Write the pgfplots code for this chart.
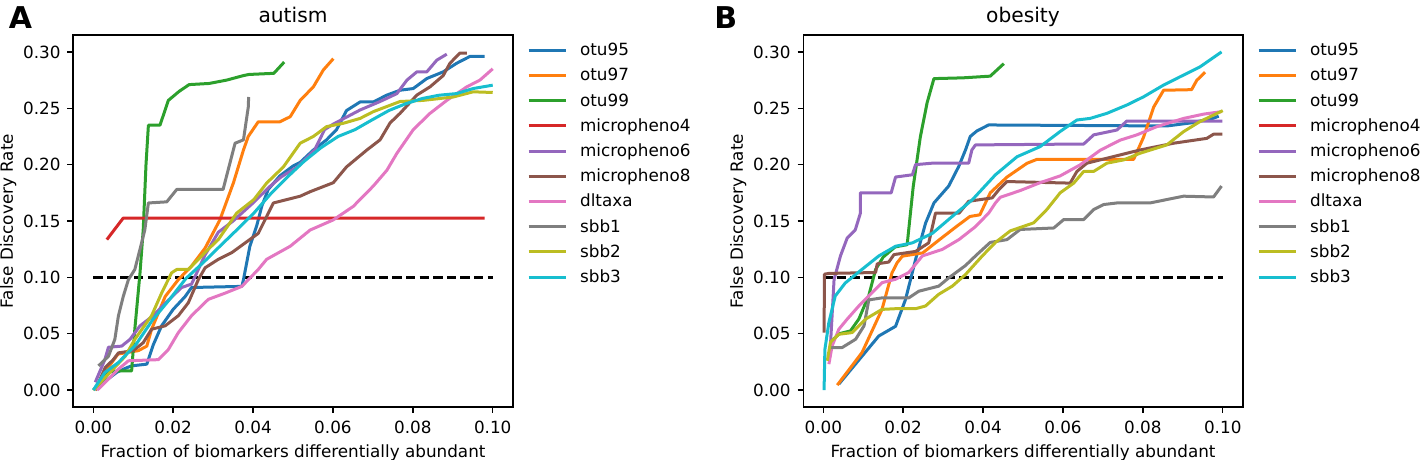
\documentclass[border=0pt]{standalone}
\usepackage{fontspec}
\setmainfont{DejaVu Sans}
\usepackage{pgfplots}
\pgfplotsset{compat=1.18}
\definecolor{c0}{HTML}{1F77B4}
\definecolor{c1}{HTML}{FF7F0E}
\definecolor{c2}{HTML}{2CA02C}
\definecolor{c3}{HTML}{D62728}
\definecolor{c4}{HTML}{9467BD}
\definecolor{c5}{HTML}{8C564B}
\definecolor{c6}{HTML}{E377C2}
\definecolor{c7}{HTML}{7F7F7F}
\definecolor{c8}{HTML}{BCBD22}
\definecolor{c9}{HTML}{17BECF}
\newcommand\fs{\fontsize{8.4}{10}\selectfont}
\newcommand\ls{\vrule width0pt height6.8pt depth0.6pt\relax}
\pgfplotsset{
  fdr/.style={
    scale only axis, width=219.7pt, height=186pt,
    xmin=-0.005, xmax=0.105, ymin=-0.015, ymax=0.315,
    xtick={0,0.02,0.04,0.06,0.08,0.1},
    xticklabels={0.00,0.02,0.04,0.06,0.08,0.10},
    ytick={0,0.05,0.1,0.15,0.2,0.25,0.3},
    yticklabels={0.00,0.05,0.10,0.15,0.20,0.25,0.30},
    tick align=outside, xtick pos=left, ytick pos=left,
    major tick length=2.9pt,
    every tick/.style={black, line width=0.7pt},
    axis line style={line width=0.8pt},
    tick label style={font=\fs, inner sep=0pt},
    xticklabel style={anchor=base, yshift=-10.4pt},
    yticklabel style={anchor=east, xshift=-3.25pt},
    label style={font=\fs},
    xlabel style={at={(axis description cs:0.5,-0.1355)}, anchor=base, inner sep=0pt},
    ylabel style={at={(axis description cs:-0.1479,0.5)}, anchor=center, inner sep=0pt},
    title style={font=\fontsize{10.1}{12}\selectfont, at={(axis description cs:0.5,1.0)}, anchor=base, yshift=0pt, inner sep=0pt},
    xlabel={Fraction of biomarkers differentially abundant},
    ylabel={False Discovery Rate},
    legend style={at={(1,1)}, anchor=north west, xshift=7pt, yshift=-3.3pt,
      draw=none, fill=none, inner sep=0pt, font=\fs, row sep=4.3pt, column sep=6.2pt,
      nodes={inner sep=0pt}},
    legend cell align=left,
    legend image code/.code={\draw[#1] (0pt,0pt) -- (18.8pt,0pt);},
    every axis plot/.append style={line width=1.5pt, line join=round, no markers},
  },
  ref/.style={black, dashed, line width=1.45pt, dash pattern=on 4.7pt off 2.1pt, forget plot},
}
\begin{document}
\begin{tikzpicture}
\path[use as bounding box] (0,0) rectangle (712pt,230pt);
% ---------------- Panel A ----------------
\begin{axis}[fdr, at={(36.65pt,26.5pt)}, anchor=south west, title={autism}]
\addplot[ref] coordinates {(0,0.1) (0.1,0.1)};
\addplot[c0] table {
0.0005 0.0
0.003 0.008
0.006 0.016
0.0085 0.020
0.0096 0.0215
0.0134 0.023
0.0150 0.040
0.0171 0.057
0.0200 0.0716
0.0230 0.083
0.0246 0.091
0.0372 0.092
0.0376 0.098
0.0392 0.1276
0.0409 0.1456
0.0422 0.1633
0.0438 0.178
0.0467 0.190
0.0501 0.199
0.0518 0.202
0.0551 0.213
0.0584 0.222
0.0609 0.231
0.0634 0.248
0.0668 0.2556
0.0701 0.2556
0.0735 0.2617
0.0768 0.266
0.0801 0.2675
0.0835 0.2764
0.0876 0.2823
0.0910 0.290
0.0943 0.296
0.0980 0.296
};
\addlegendentry{\ls otu95}
\addplot[c1] table {
0.0005 0.0
0.0029 0.016
0.0062 0.032
0.0113 0.035
0.0134 0.039
0.0146 0.054
0.0180 0.083
0.0213 0.098
0.0246 0.110
0.0280 0.126
0.0317 0.151
0.0351 0.184
0.0376 0.213
0.0388 0.225
0.0413 0.238
0.0467 0.238
0.0493 0.2425
0.0518 0.257
0.0551 0.269
0.0576 0.284
0.0601 0.294
};
\addlegendentry{\ls otu97}
\addplot[c2] table {
0.0020 0.012
0.0040 0.016
0.0062 0.017
0.0096 0.017
0.0104 0.054
0.0117 0.104
0.0125 0.142
0.0132 0.200
0.0138 0.235
0.0167 0.235
0.0188 0.257
0.0215 0.265
0.0240 0.271
0.0290 0.272
0.0334 0.275
0.0376 0.279
0.0390 0.280
0.0452 0.281
0.0478 0.291
};
\addlegendentry{\ls otu99}
\addplot[c3] table {
0.0034 0.1335
0.0075 0.1526
0.0980 0.1526
};
\addlegendentry{\ls micropheno4}
\addplot[c4] table {
0.0005 0.007
0.0029 0.027
0.0038 0.038
0.0071 0.039
0.0092 0.045
0.0117 0.057
0.0150 0.066
0.0180 0.077
0.0221 0.091
0.0246 0.094
0.0280 0.120
0.0313 0.140
0.0350 0.150
0.0400 0.166
0.0440 0.180
0.0470 0.189
0.0511 0.198
0.0554 0.213
0.0579 0.231
0.0601 0.236
0.0668 0.2485
0.0718 0.256
0.0760 0.263
0.0785 0.2749
0.0810 0.2823
0.0835 0.2823
0.0860 0.2927
0.0885 0.298
};
\addlegendentry{\ls micropheno6}
\addplot[c5] table {
0.0015 0.008
0.0030 0.020
0.0050 0.027
0.0063 0.033
0.0100 0.035
0.0125 0.042
0.0146 0.054
0.0180 0.057
0.0213 0.066
0.0238 0.0775
0.0263 0.098
0.0280 0.1085
0.0313 0.116
0.0347 0.122
0.0413 0.139
0.0451 0.166
0.0518 0.172
0.0543 0.176
0.0601 0.184
0.0634 0.198
0.0685 0.213
0.0718 0.222
0.0743 0.237
0.0768 0.2455
0.0810 0.2617
0.0843 0.269
0.0876 0.279
0.0893 0.290
0.0918 0.299
0.0935 0.299
};
\addlegendentry{\ls micropheno8}
\addplot[c6] table {
0.0010 0.0
0.0038 0.0097
0.0063 0.0186
0.0088 0.026
0.0163 0.027
0.0188 0.036
0.0213 0.051
0.0246 0.066
0.0288 0.0805
0.0330 0.086
0.0372 0.092
0.0413 0.107
0.0434 0.116
0.0493 0.1276
0.0543 0.142
0.0601 0.151
0.0651 0.163
0.0701 0.181
0.0735 0.195
0.0760 0.210
0.0801 0.231
0.0843 0.2455
0.0885 0.257
0.0935 0.269
0.0968 0.275
0.1000 0.285
};
\addlegendentry{\ls dltaxa}
\addplot[c7] table {
0.0013 0.0215
0.0038 0.030
0.0054 0.045
0.0063 0.066
0.0075 0.083
0.0088 0.098
0.0104 0.107
0.0117 0.125
0.0129 0.142
0.0138 0.166
0.0184 0.167
0.0209 0.178
0.0325 0.178
0.0355 0.219
0.0376 0.222
0.0388 0.251
0.0389 0.260
};
\addlegendentry{\ls sbb1}
\addplot[c8] table {
0.0000 0.000
0.0040 0.015
0.0080 0.030
0.0104 0.045
0.0146 0.066
0.0171 0.086
0.0196 0.104
0.0209 0.107
0.0238 0.107
0.0255 0.113
0.0288 0.125
0.0313 0.1335
0.0359 0.157
0.0402 0.169
0.0434 0.1836
0.0476 0.198
0.0518 0.219
0.0551 0.225
0.0584 0.2337
0.0626 0.2367
0.0668 0.241
0.0701 0.247
0.0768 0.256
0.0826 0.257
0.0901 0.260
0.0951 0.2646
0.1000 0.264
};
\addlegendentry{\ls sbb2}
\addplot[c9] table {
0.0000 0.000
0.0029 0.0156
0.0063 0.0245
0.0106 0.040
0.0148 0.062
0.0190 0.080
0.0232 0.099
0.0275 0.113
0.0317 0.1276
0.0359 0.142
0.0402 0.157
0.0444 0.174
0.0486 0.189
0.0528 0.203
0.0570 0.215
0.0613 0.225
0.0655 0.231
0.0697 0.2395
0.0740 0.248
0.0782 0.254
0.0824 0.2587
0.0866 0.2616
0.0909 0.263
0.0951 0.2675
0.1000 0.2705
};
\addlegendentry{\ls sbb3}
\end{axis}
% ---------------- Panel B ----------------
\begin{axis}[fdr, at={(401.65pt,26.5pt)}, anchor=south west, title={obesity}]
\addplot[ref] coordinates {(0,0.1) (0.1,0.1)};
\addplot[c0] table {
0.0039 0.0053
0.0139 0.048
0.0181 0.0566
0.0206 0.0805
0.0231 0.1158
0.0256 0.148
0.0277 0.166
0.0314 0.181
0.0339 0.1983
0.0356 0.213
0.0368 0.225
0.0385 0.230
0.0414 0.2352
0.0860 0.2343
0.0920 0.237
0.0975 0.241
0.0990 0.243
};
\addlegendentry{\ls otu95}
\addplot[c1] table {
0.0035 0.0044
0.0097 0.0333
0.0147 0.0716
0.0172 0.104
0.0185 0.113
0.0198 0.1188
0.0249 0.1217
0.0291 0.1335
0.0333 0.145
0.0367 0.154
0.0392 0.1555
0.0418 0.175
0.0460 0.189
0.0510 0.2012
0.0535 0.2047
0.0777 0.2047
0.0802 0.2245
0.0827 0.251
0.0852 0.266
0.0922 0.2665
0.0935 0.2748
0.0956 0.282
};
\addlegendentry{\ls otu97}
\addplot[c2] table {
0.0025 0.045
0.0040 0.050
0.0068 0.0525
0.0089 0.063
0.0114 0.084
0.0131 0.107
0.0150 0.118
0.0180 0.127
0.0210 0.129
0.0225 0.180
0.0243 0.2246
0.0260 0.255
0.0277 0.2763
0.0350 0.277
0.0418 0.2785
0.0452 0.2896
};
\addlegendentry{\ls otu99}
\addlegendimage{c3, line width=1.5pt}
\addlegendentry{\ls micropheno4}
\addplot[c4] table {
0.0018 0.040
0.0027 0.098
0.0043 0.119
0.0060 0.135
0.0080 0.142
0.0093 0.157
0.0093 0.175
0.0170 0.175
0.0181 0.189
0.0223 0.191
0.0231 0.200
0.0273 0.2013
0.0364 0.2013
0.0372 0.213
0.0381 0.2175
0.0652 0.2183
0.0677 0.2264
0.0735 0.2307
0.0760 0.2387
0.0999 0.2387
};
\addlegendentry{\ls micropheno6}
\addplot[c5] table {
0.0002 0.051
0.0003 0.1028
0.0014 0.1035
0.0131 0.1043
0.0135 0.112
0.0164 0.1136
0.0177 0.1202
0.0231 0.123
0.0264 0.1306
0.0281 0.157
0.0340 0.157
0.0364 0.1675
0.0423 0.1705
0.0440 0.178
0.0460 0.185
0.0618 0.1836
0.0635 0.194
0.0660 0.2013
0.0793 0.213
0.0877 0.219
0.0960 0.2233
0.0977 0.227
0.0999 0.227
};
\addlegendentry{\ls micropheno8}
\addplot[c6] table {
0.0014 0.023
0.0022 0.039
0.0039 0.054
0.0060 0.063
0.0089 0.0746
0.0114 0.0835
0.0147 0.0953
0.0181 0.0983
0.0214 0.1043
0.0248 0.119
0.0298 0.1248
0.0340 0.1336
0.0381 0.145
0.0414 0.157
0.0431 0.166
0.0443 0.171
0.0493 0.177
0.0543 0.184
0.0593 0.190
0.0643 0.1998
0.0693 0.2127
0.0743 0.2217
0.0785 0.2264
0.0835 0.2337
0.0902 0.241
0.0952 0.2448
0.0997 0.247
};
\addlegendentry{\ls dltaxa}
\addplot[c7] table {
0.0014 0.0377
0.0047 0.0377
0.0081 0.0451
0.0102 0.057
0.0114 0.080
0.0147 0.0818
0.0214 0.0818
0.0239 0.0877
0.0289 0.0922
0.0314 0.0995
0.0356 0.1105
0.0384 0.1200
0.0418 0.1310
0.0460 0.1335
0.0493 0.1425
0.0577 0.1438
0.0602 0.1513
0.0652 0.1513
0.0677 0.1602
0.0702 0.1646
0.0735 0.166
0.0818 0.166
0.0868 0.1696
0.0902 0.172
0.0977 0.1713
0.0997 0.181
};
\addlegendentry{\ls sbb1}
\addplot[c8] table {
0.0010 0.026
0.0018 0.0425
0.0039 0.0495
0.0072 0.051
0.0106 0.063
0.0147 0.0716
0.0181 0.0722
0.0231 0.0722
0.0256 0.0746
0.0289 0.085
0.0323 0.0922
0.0356 0.1025
0.0398 0.119
0.0431 0.131
0.0468 0.1412
0.0527 0.1484
0.0560 0.1603
0.0593 0.1750
0.0627 0.1836
0.0652 0.194
0.0677 0.194
0.0710 0.2013
0.0752 0.2042
0.0793 0.2101
0.0860 0.2175
0.0902 0.2293
0.0943 0.2382
0.1000 0.2479
};
\addlegendentry{\ls sbb2}
\addplot[c9] table {
0.0002 0.000
0.0004 0.036
0.0014 0.060
0.0030 0.0835
0.0055 0.095
0.0097 0.1071
0.0139 0.119
0.0181 0.1276
0.0223 0.1306
0.0273 0.139
0.0323 0.1541
0.0373 0.1688
0.0431 0.191
0.0485 0.207
0.0543 0.216
0.0593 0.2294
0.0635 0.2396
0.0668 0.241
0.0710 0.2455
0.0760 0.2529
0.0802 0.2602
0.0852 0.2706
0.0893 0.2779
0.0943 0.2867
0.0997 0.300
};
\addlegendentry{\ls sbb3}
\end{axis}
\node[anchor=base west, inner sep=0pt, font=\fontsize{15}{18}\selectfont\bfseries] at (4.2pt,215.85pt) {A};
\node[anchor=base west, inner sep=0pt, font=\fontsize{15}{18}\selectfont\bfseries] at (357pt,215.85pt) {B};
\end{tikzpicture}
\end{document}
